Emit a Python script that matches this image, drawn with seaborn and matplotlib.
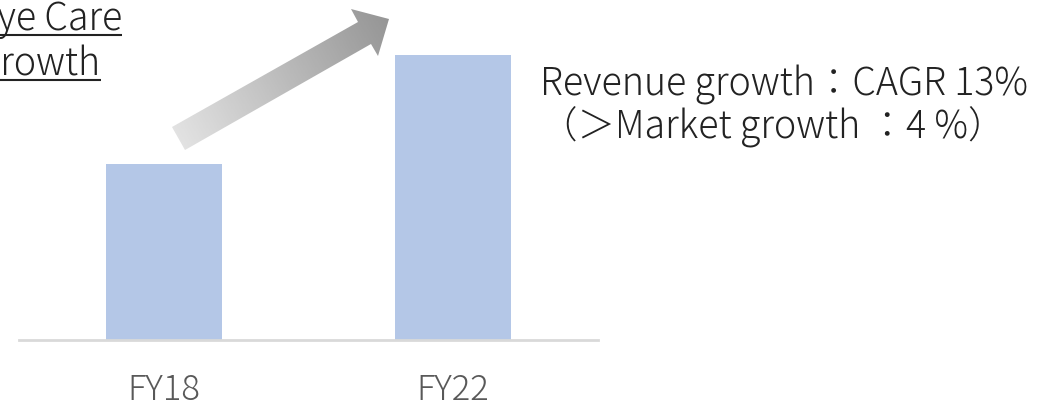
# Eye Care growth chart: FY18 vs FY22 revenue bars with CAGR call-out
import numpy as np
import matplotlib
matplotlib.use("Agg")
import matplotlib.pyplot as plt
import seaborn as sns
from matplotlib.patches import Polygon
from matplotlib.colors import LinearSegmentedColormap

# data
years = ["FY18", "FY22"]
revenue = [100, 162]          # index, FY18 = 100 (CAGR ~13%)

title_lines = ["Eye Care", "Growth"]
note_lines = ["Revenue growth：CAGR 13%", "（＞Market growth ：4 %）"]

sns.set_theme(style="white")
plt.rcParams["font.family"] = ["Noto Sans CJK JP", "DejaVu Sans"]

W, H = 1050, 412
fig = plt.figure(figsize=(W / 100, H / 100), dpi=100)

# bar axes
ax = fig.add_axes([19 / W, 72 / H, 579 / W, 340 / H])
sns.barplot(x=years, y=revenue, color="#B4C7E7", saturation=1, width=0.4,
            linewidth=0, ax=ax)
ax.set_xlim(-0.5, 1.5)
ax.set_ylim(0, revenue[1] * 340 / 285)
for s in ["left", "right", "top"]:
    ax.spines[s].set_visible(False)
ax.spines["bottom"].set_color("#D9D9D9")
ax.spines["bottom"].set_linewidth(2)
ax.set_yticks([])
ax.set_xlabel("")
ax.set_ylabel("")
ax.tick_params(axis="x", length=0, pad=23, labelsize=25, labelcolor="#595959")
for lab in ax.get_xticklabels():
    lab.set_fontweight("light")

# overlay in pixel coords for arrow and texts
ov = fig.add_axes([0, 0, 1, 1])
ov.set_xlim(0, W)
ov.set_ylim(H, 0)
ov.axis("off")
ov.patch.set_alpha(0)

# gradient arrow
T = np.array([178.5, 138.5])
P = np.array([389.0, 19.0])
L = np.linalg.norm(P - T)
u = (P - T) / L
n = np.array([-u[1], u[0]])
hl, hw, sw = 28, 27, 13
B = P - hl * u
pts = [T + sw * n, B + sw * n, B + hw * n, P, B - hw * n, B - sw * n, T - sw * n]
arrow = Polygon(pts, closed=True, facecolor="none", edgecolor="none")
ov.add_patch(arrow)
pts = np.array(pts)
X, Y = np.meshgrid(np.linspace(pts[:, 0].min(), pts[:, 0].max(), 200),
                   np.linspace(pts[:, 1].min(), pts[:, 1].max(), 200))
proj = ((X - T[0]) * u[0] + (Y - T[1]) * u[1]) / L
cmap = LinearSegmentedColormap.from_list("grey", ["#E2E2E2", "#959595"])
mesh = ov.pcolormesh(X, Y, proj, cmap=cmap, vmin=0, vmax=1, shading="auto")
mesh.set_clip_path(arrow)

# title (underlined, clipped at left edge as in the source slide)
tl = []
for i, line in enumerate(title_lines):
    tl.append(ov.text(-24, 30 + i * 45, line, fontsize=27, color="#222222",
                      fontweight="light", va="baseline", ha="left"))

# call-out note
for i, line in enumerate(note_lines):
    ov.text(540, 95 + i * 43, line, fontsize=27, color="#222222",
            fontweight="light", va="baseline", ha="left")

fig.canvas.draw()
inv = ov.transData.inverted()
for i, t in enumerate(tl):
    bb = t.get_window_extent()
    x1 = inv.transform((bb.x1, bb.y0))[0]
    y = 30 + i * 45 + 5
    ov.plot([-24, x1], [y, y], color="#222222", lw=1.5, solid_capstyle="butt")

fig.savefig("out.png", dpi=100)
